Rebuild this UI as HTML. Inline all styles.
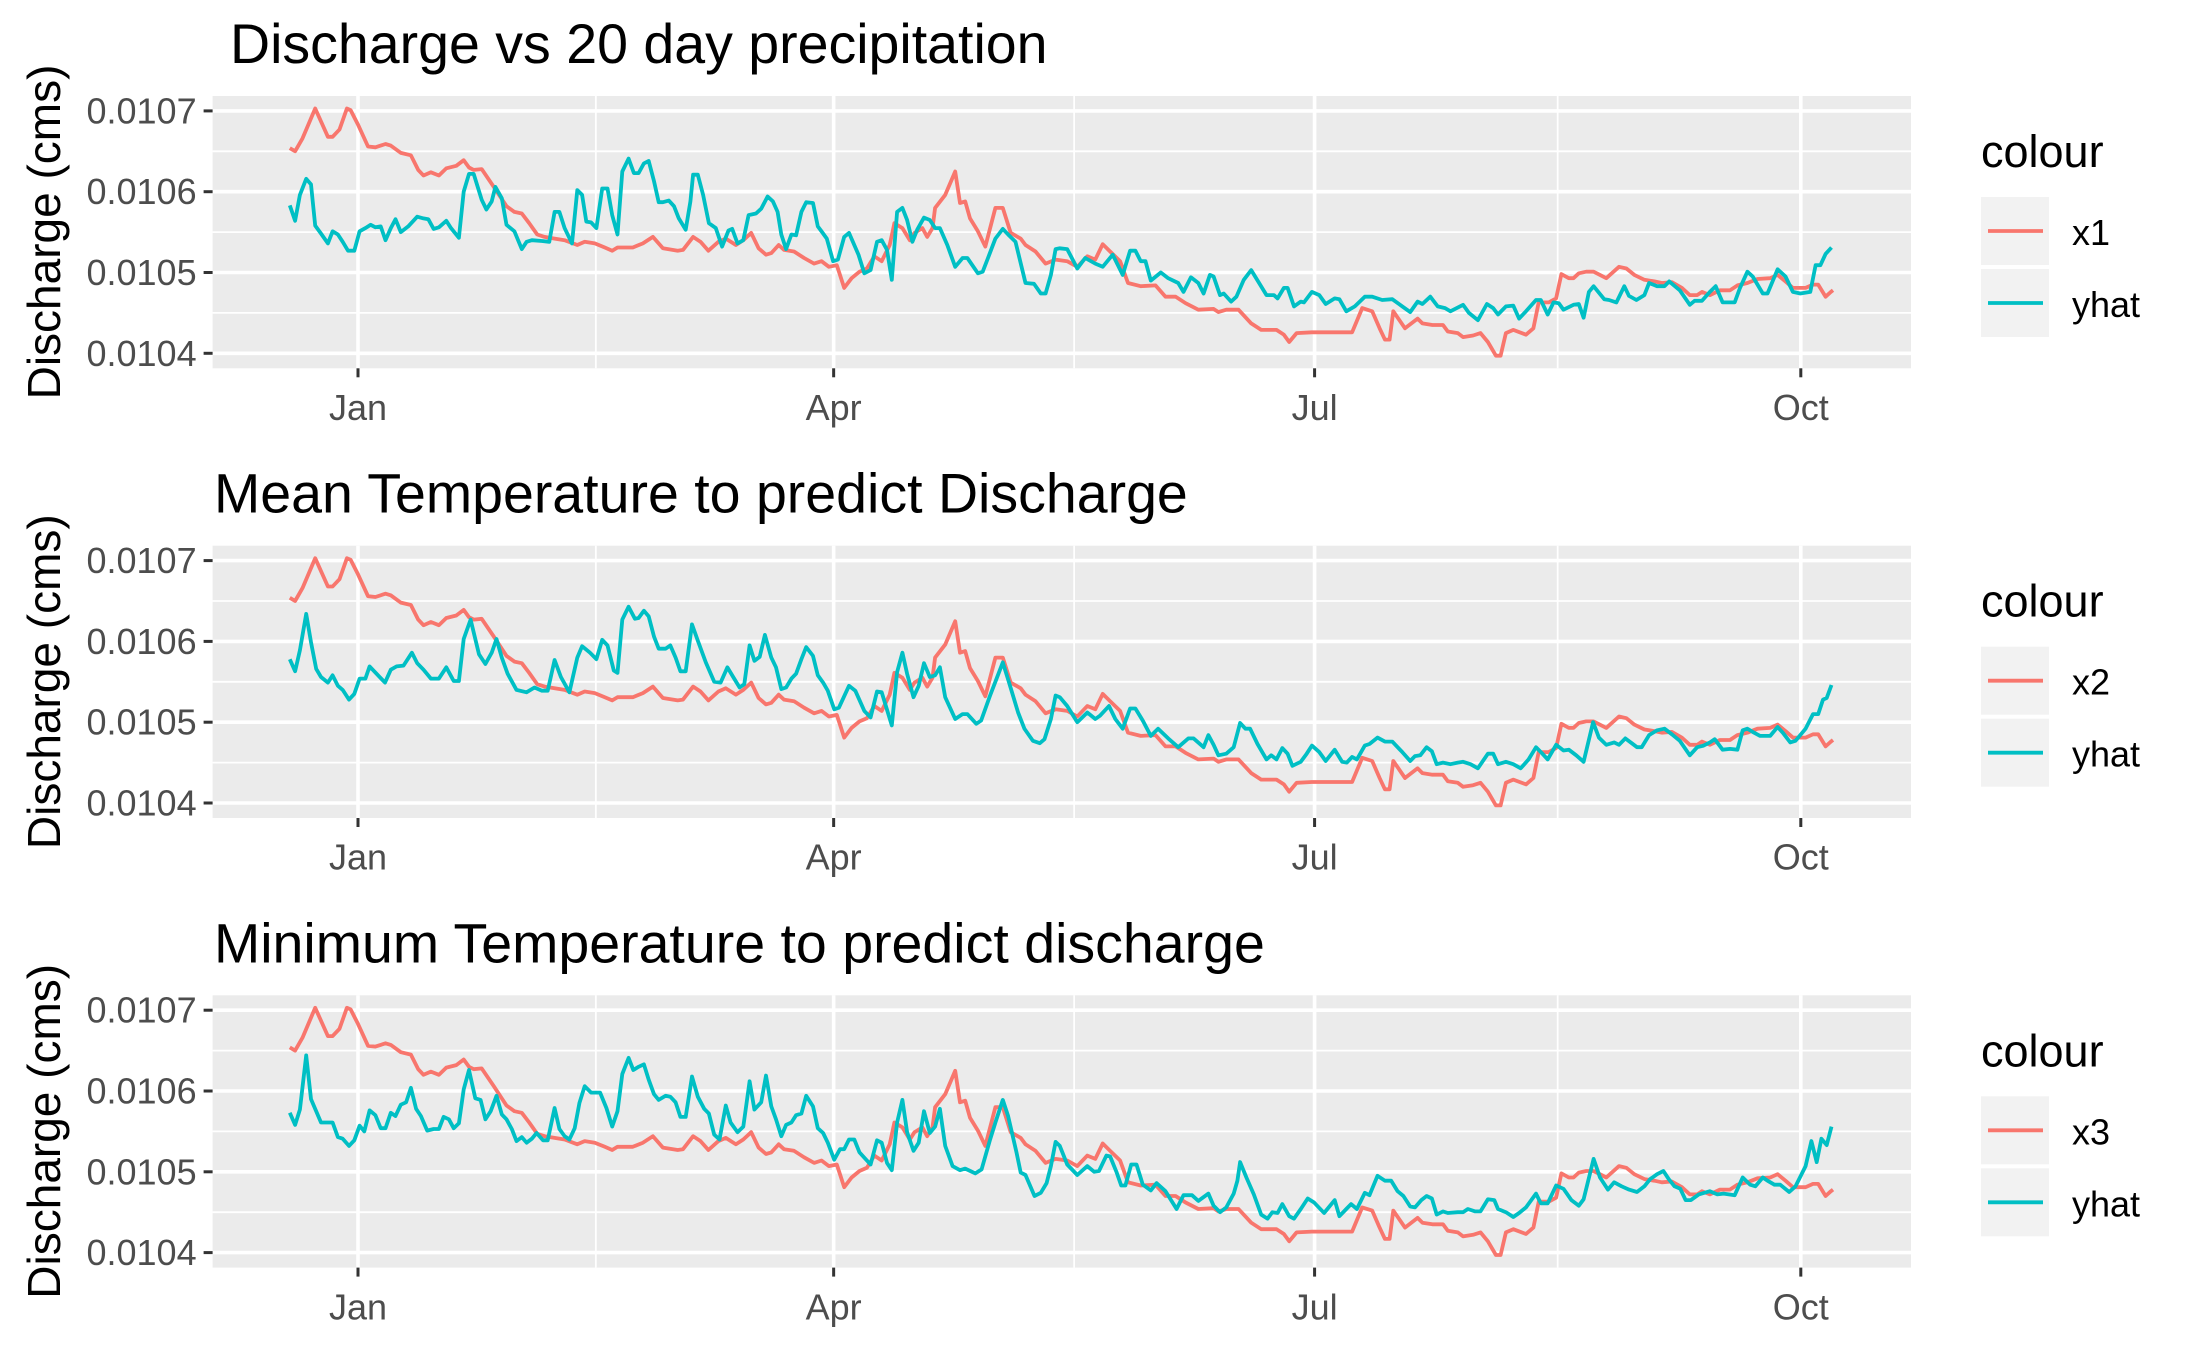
<!DOCTYPE html>
<html><head><meta charset="utf-8"><style>
html,body{margin:0;padding:0;background:#fff}
svg{display:block;font-family:"Liberation Sans",Arial,sans-serif}
</style></head><body>
<svg id="chart" width="2187" height="1350" viewBox="0 0 2187 1350" xmlns="http://www.w3.org/2000/svg"></svg>
<script>
// Day offsets are days from Jan 1 (negative = December of the previous year). Values are in units of 1e-4 cms.
const xTickDays = [0, 90, 181, 273];
const xTickLabels = ["Jan", "Apr", "Jul", "Oct"];
const yTickVals = [104, 105, 106, 107];
const yTickLabels = ["0.0104", "0.0105", "0.0106", "0.0107"];
const panelTitles = ["Discharge vs 20 day precipitation", "Mean Temperature to predict Discharge", "Minimum Temperature to predict discharge"];
const legendLabels = ["x1", "x2", "x3"];

const obsDays = [-12.9,-11.9,-10.5,-8.1,-5.7,-4.8,-3.5,-2.1,-1.4,0,1.9,3.3,5.2,6.2,8.1,10.0,11.4,12.4,13.8,15.3,16.7,18.6,20.0,21.0,21.9,23.4,25.7,28.1,29.6,31.0,32.4,33.9,35.3,37.2,39.1,41.5,42.9,44.8,46.7,48.1,49.1,52.0,53.9,55.8,57.7,60.5,61.5,63.4,64.8,66.3,68.2,69.6,71.5,72.9,74.4,75.8,77.2,78.2,79.6,80.6,82.5,84.4,86.3,87.7,89.1,90.6,92.0,93.4,94.9,96.3,97.7,99.1,100.6,101.5,103.0,104.4,105.3,106.8,107.7,108.7,109.2,111.1,113.0,113.9,114.9,115.8,117.3,118.7,120.6,122.0,123.5,125.4,126.3,128.2,130.1,132.0,134.2,136.1,138.0,139.5,140.9,142.3,144.2,145.7,148.1,150.9,152.8,154.7,156.6,159.0,161.9,162.8,164.3,166.6,169.0,170.9,173.8,175.2,176.2,177.6,180.5,184.3,188.1,190.0,191.9,193.3,194.3,195.2,195.9,198.1,200.5,201.4,203.3,205.3,206.2,208.1,209.1,211.0,212.4,213.8,215.3,216.2,217.2,218.6,221.0,222.4,223.4,225.3,226.7,227.7,229.1,230.0,231.0,232.4,233.8,236.2,238.6,240.0,241.5,243.4,245.3,246.7,248.6,250.5,252.0,253.4,254.3,255.8,257.7,259.6,261.0,262.9,264.8,267.2,268.6,270.1,271.5,273.9,275.3,276.3,277.7,278.7,279.1];
const obsVals = [106.54,106.50,106.66,107.03,106.68,106.68,106.77,107.03,107.01,106.83,106.56,106.55,106.59,106.57,106.48,106.45,106.27,106.20,106.24,106.20,106.29,106.32,106.39,106.30,106.27,106.28,106.06,105.82,105.75,105.73,105.61,105.47,105.44,105.42,105.40,105.34,105.38,105.36,105.31,105.27,105.31,105.31,105.36,105.44,105.30,105.27,105.28,105.44,105.38,105.27,105.38,105.42,105.34,105.40,105.49,105.30,105.22,105.24,105.34,105.28,105.26,105.18,105.11,105.14,105.07,105.09,104.81,104.93,105.01,105.05,105.20,105.14,105.34,105.61,105.55,105.40,105.49,105.55,105.44,105.55,105.80,105.96,106.25,105.86,105.88,105.67,105.51,105.32,105.80,105.80,105.49,105.42,105.34,105.26,105.11,105.16,105.14,105.07,105.20,105.16,105.35,105.26,105.14,104.87,104.83,104.84,104.70,104.70,104.62,104.54,104.55,104.51,104.54,104.54,104.37,104.29,104.29,104.23,104.14,104.25,104.26,104.26,104.26,104.56,104.52,104.31,104.17,104.17,104.52,104.31,104.43,104.37,104.35,104.35,104.27,104.25,104.20,104.22,104.25,104.14,103.97,103.97,104.25,104.29,104.23,104.31,104.63,104.63,104.68,104.98,104.93,104.93,104.99,105.01,105.01,104.93,105.07,105.05,104.97,104.91,104.89,104.87,104.88,104.81,104.72,104.72,104.76,104.72,104.78,104.78,104.84,104.87,104.92,104.93,104.97,104.89,104.81,104.81,104.85,104.85,104.70,104.76,104.78];

const yhat1Days = [-12.9,-11.9,-11.0,-9.8,-8.9,-8.1,-7.1,-5.7,-4.8,-3.8,-2.9,-1.9,-0.7,0.3,1.4,2.4,3.3,4.3,5.2,6.2,7.1,8.1,9.5,11.2,12.4,13.3,14.3,15.3,16.7,17.6,19.1,20.0,21.0,21.9,23.4,24.3,25.3,26.0,27.2,28.1,29.6,31.0,31.9,32.9,34.8,36.2,37.2,38.1,39.1,40.5,41.5,42.4,43.2,44.1,45.1,46.2,47.2,48.1,49.1,50.0,51.2,52.2,53.1,54.1,55.0,56.0,56.9,57.7,58.8,59.8,60.7,62.0,62.9,63.4,64.3,65.3,66.4,67.7,68.9,70.1,70.8,71.8,72.9,73.9,75.3,76.3,77.5,78.5,79.4,80.1,81.0,82.0,82.9,83.9,84.8,86.1,87.0,87.7,88.7,89.9,90.8,92.0,92.9,94.7,95.8,97.0,98.2,99.1,100.1,101.0,102.0,103.0,103.9,104.9,105.8,107.1,108.2,109.2,110.1,111.5,113.0,114.4,115.3,117.3,118.2,119.2,120.6,122.0,123.0,124.4,126.3,127.9,129.2,130.1,131.1,132.0,132.8,134.2,136.1,137.6,139.5,140.9,142.8,144.7,146.1,147.1,148.1,149.0,150.0,151.9,153.3,155.2,156.2,157.6,159.0,160.0,161.2,161.9,163.1,163.8,165.2,166.2,167.6,169.0,170.5,171.9,173.3,174.0,175.2,175.9,177.1,178.4,179.0,180.5,181.9,183.1,184.8,185.7,187.0,188.6,190.5,191.9,193.8,195.7,197.6,199.1,200.5,201.4,202.9,204.3,205.7,206.7,209.1,210.2,211.9,213.6,214.8,215.7,217.2,218.6,219.7,221.0,222.9,223.8,225.1,226.2,227.2,228.1,230.0,231.0,231.9,232.9,233.8,235.8,236.7,238.1,239.6,240.5,241.9,243.4,244.3,245.8,247.2,248.1,250.1,252.0,252.9,254.3,255.8,256.9,258.2,260.5,261.5,262.9,263.9,265.8,266.7,268.6,270.1,271.5,272.9,274.8,275.8,276.7,277.7,278.8];
const yhat1Vals = [105.83,105.64,105.96,106.16,106.09,105.58,105.49,105.36,105.51,105.47,105.38,105.27,105.27,105.51,105.55,105.59,105.56,105.57,105.40,105.55,105.66,105.50,105.57,105.69,105.67,105.66,105.54,105.56,105.64,105.55,105.43,106.00,106.22,106.22,105.90,105.78,105.88,106.06,105.92,105.59,105.51,105.29,105.38,105.40,105.39,105.38,105.75,105.75,105.55,105.36,106.02,105.96,105.63,105.62,105.55,106.04,106.04,105.71,105.47,106.25,106.41,106.23,106.23,106.35,106.38,106.13,105.87,105.87,105.89,105.82,105.67,105.53,105.88,106.21,106.21,105.96,105.61,105.55,105.32,105.52,105.54,105.36,105.40,105.71,105.73,105.79,105.94,105.88,105.75,105.47,105.29,105.47,105.46,105.75,105.87,105.86,105.57,105.51,105.42,105.14,105.16,105.44,105.49,105.22,104.99,105.03,105.38,105.40,105.28,104.91,105.75,105.80,105.65,105.38,105.53,105.68,105.65,105.55,105.55,105.34,105.07,105.18,105.18,104.99,105.01,105.18,105.42,105.54,105.47,105.38,104.87,104.86,104.74,104.74,104.97,105.29,105.30,105.29,105.05,105.18,105.11,105.07,105.22,104.97,105.27,105.27,105.14,105.14,104.90,105.00,104.93,104.87,104.76,104.94,104.87,104.74,104.97,104.95,104.72,104.74,104.64,104.70,104.91,105.03,104.87,104.72,104.72,104.68,104.81,104.81,104.58,104.64,104.63,104.76,104.72,104.61,104.68,104.67,104.52,104.58,104.70,104.70,104.66,104.67,104.58,104.51,104.64,104.61,104.70,104.58,104.56,104.52,104.60,104.50,104.41,104.61,104.56,104.48,104.58,104.59,104.43,104.52,104.66,104.66,104.48,104.63,104.62,104.54,104.60,104.61,104.44,104.76,104.83,104.67,104.66,104.63,104.83,104.71,104.66,104.72,104.87,104.83,104.83,104.89,104.78,104.60,104.65,104.65,104.76,104.83,104.63,104.63,104.81,105.01,104.95,104.74,104.74,105.04,104.95,104.76,104.74,104.76,105.09,105.09,105.23,105.31];

const yhat2Days = [-12.9,-11.9,-11.0,-9.8,-8.9,-7.9,-7.0,-5.7,-4.8,-3.8,-2.9,-1.7,-0.7,0.3,1.4,2.2,3.5,5.1,6.2,7.3,8.6,10.2,11.2,12.4,13.8,15.3,16.7,18.1,19.1,20.0,21.3,22.9,24.1,25.3,26.2,27.2,28.3,30.0,31.9,33.4,34.8,35.9,37.2,38.4,40.0,41.5,42.4,43.9,45.1,46.2,47.2,48.4,49.1,50.0,51.2,52.4,53.1,54.1,55.0,56.0,56.9,58.2,59.1,60.1,61.0,62.0,63.2,64.3,65.8,67.4,68.6,69.9,71.0,72.2,73.1,74.1,75.0,76.0,77.0,78.2,79.1,80.1,81.0,82.0,82.9,83.9,84.8,86.1,87.0,88.0,88.9,90.1,91.0,92.9,94.1,95.8,97.0,98.2,99.1,101.0,102.0,103.0,103.9,105.1,106.1,107.1,108.2,109.2,110.1,111.1,113.0,114.4,115.3,117.0,117.9,119.6,122.0,123.0,124.9,126.1,127.7,129.0,129.9,131.1,132.0,132.8,134.2,136.1,138.0,139.5,140.4,142.1,143.3,144.7,146.1,147.1,148.5,150.0,151.4,153.3,155.2,157.1,158.1,160.0,160.9,161.9,162.8,164.3,165.7,166.9,167.9,168.8,170.2,171.9,172.8,173.8,174.9,175.9,176.8,178.4,179.5,180.5,181.9,183.1,184.8,186.2,187.1,188.1,189.0,190.5,191.4,192.9,194.3,195.7,196.7,197.6,199.1,200.0,201.0,202.2,203.2,204.1,205.3,206.7,208.1,209.1,210.5,211.9,213.8,214.8,215.7,217.2,218.6,220.0,221.5,222.9,224.1,225.1,226.7,228.1,229.1,230.5,231.9,233.7,234.8,236.2,237.7,238.6,239.8,241.0,242.0,242.9,244.3,245.8,247.2,248.6,250.1,252.0,253.4,254.6,255.8,256.7,258.2,259.6,261.0,262.0,262.9,263.9,265.3,267.2,268.6,269.6,271.0,272.0,273.9,275.3,276.3,277.2,277.9,278.8];
const yhat2Vals = [105.78,105.63,105.89,106.34,105.99,105.66,105.56,105.49,105.58,105.45,105.40,105.28,105.35,105.54,105.54,105.69,105.60,105.49,105.65,105.69,105.70,105.86,105.73,105.65,105.54,105.54,105.68,105.51,105.51,106.03,106.27,105.84,105.72,105.86,106.03,105.80,105.60,105.40,105.37,105.43,105.39,105.39,105.77,105.56,105.37,105.80,105.94,105.86,105.78,106.02,105.95,105.64,105.61,106.27,106.43,106.28,106.29,106.38,106.31,106.06,105.91,105.91,105.95,105.80,105.63,105.63,106.21,106.01,105.74,105.50,105.49,105.68,105.56,105.43,105.47,105.95,105.76,105.81,106.08,105.80,105.68,105.41,105.43,105.54,105.60,105.78,105.93,105.82,105.58,105.49,105.39,105.16,105.18,105.45,105.39,105.14,105.06,105.38,105.37,104.96,105.62,105.86,105.60,105.31,105.45,105.73,105.56,105.58,105.68,105.31,105.04,105.10,105.10,104.98,105.02,105.33,105.74,105.53,105.12,104.92,104.77,104.74,104.79,105.04,105.33,105.31,105.20,105.00,105.12,105.04,105.08,105.20,105.04,104.92,105.17,105.17,105.02,104.83,104.92,104.80,104.69,104.80,104.80,104.69,104.84,104.72,104.59,104.61,104.69,104.99,104.92,104.92,104.73,104.54,104.59,104.54,104.68,104.61,104.46,104.51,104.61,104.71,104.63,104.52,104.66,104.51,104.50,104.57,104.54,104.71,104.73,104.81,104.76,104.76,104.69,104.63,104.52,104.58,104.59,104.69,104.64,104.48,104.50,104.48,104.50,104.51,104.48,104.43,104.61,104.61,104.48,104.51,104.48,104.43,104.54,104.69,104.61,104.54,104.72,104.65,104.66,104.59,104.51,105.00,104.81,104.72,104.75,104.72,104.80,104.74,104.69,104.69,104.84,104.90,104.92,104.85,104.77,104.59,104.69,104.71,104.75,104.79,104.66,104.67,104.66,104.90,104.92,104.88,104.83,104.83,104.94,104.87,104.75,104.77,104.92,105.10,105.10,105.28,105.30,105.46];

const yhat3Days = [-12.9,-11.9,-11.0,-9.8,-8.9,-7.9,-7.0,-5.7,-4.8,-3.8,-2.9,-1.7,-0.7,0.3,1.2,2.2,3.3,4.3,5.2,6.2,7.1,8.1,9.1,10.0,11.0,11.9,13.1,14.3,15.3,16.2,17.2,18.1,19.1,20.0,21.0,22.2,23.2,24.1,25.1,26.2,27.2,28.1,29.1,30.0,31.0,31.9,32.9,33.8,35.0,35.9,37.2,38.1,39.1,40.0,41.0,41.9,42.9,44.1,45.8,47.0,48.1,49.1,50.0,51.2,52.1,53.1,54.1,55.0,56.0,56.9,58.2,59.1,60.1,61.0,62.0,63.2,64.3,65.5,66.4,67.4,68.4,69.6,70.5,71.8,72.9,74.1,75.0,76.3,77.2,78.2,79.1,80.1,81.0,82.0,82.9,83.9,84.8,86.1,87.0,88.0,88.9,90.1,91.2,92.0,92.9,93.9,94.9,96.0,97.0,98.2,99.1,100.1,101.0,102.0,103.0,103.9,105.1,106.1,107.1,108.2,109.2,110.1,111.1,112.5,113.9,114.9,116.8,118.0,119.6,120.6,122.0,123.0,124.6,125.4,126.3,128.0,129.2,130.3,131.1,132.0,132.8,134.2,136.1,138.0,139.3,140.2,141.6,142.3,143.5,144.4,145.2,146.3,147.3,148.5,150.0,151.1,152.8,154.9,156.2,157.8,159.0,160.9,161.9,163.1,164.3,165.7,166.4,166.9,168.1,169.5,170.9,172.1,173.0,174.0,174.9,176.2,177.1,178.4,179.7,180.9,182.8,184.8,185.7,187.0,187.9,189.0,190.5,191.4,192.9,194.3,195.5,196.7,197.8,199.1,200.0,201.2,202.2,203.2,204.1,205.3,206.2,208.1,209.1,210.0,211.4,212.4,213.8,215.0,215.7,217.2,218.6,219.7,221.0,222.9,223.8,225.1,226.7,228.1,229.6,231.0,231.9,233.8,235.0,236.5,237.7,239.1,240.5,242.0,243.4,244.5,245.8,247.0,248.0,249.1,250.2,251.2,252.2,253.7,255.8,257.2,258.4,260.5,262.0,263.4,264.4,265.8,266.7,268.0,269.1,270.8,272.0,273.9,275.0,276.0,276.9,277.9,278.8];
const yhat3Vals = [105.73,105.58,105.77,106.44,105.90,105.75,105.61,105.61,105.61,105.43,105.41,105.32,105.39,105.57,105.50,105.76,105.70,105.54,105.54,105.73,105.69,105.83,105.86,106.04,105.78,105.69,105.51,105.53,105.53,105.68,105.65,105.54,105.60,106.02,106.26,105.91,105.89,105.65,105.75,105.94,105.71,105.65,105.53,105.38,105.43,105.36,105.41,105.48,105.39,105.39,105.79,105.53,105.44,105.40,105.54,105.85,106.06,105.98,105.98,105.79,105.56,105.75,106.21,106.41,106.26,106.30,106.33,106.14,105.96,105.89,105.94,105.93,105.86,105.68,105.68,106.18,105.93,105.78,105.72,105.46,105.40,105.82,105.61,105.49,105.56,106.12,105.77,105.86,106.19,105.81,105.65,105.44,105.58,105.61,105.70,105.72,105.94,105.81,105.54,105.48,105.36,105.15,105.28,105.28,105.40,105.40,105.24,105.16,105.09,105.39,105.36,105.11,105.02,105.61,105.89,105.49,105.26,105.36,105.75,105.48,105.56,105.78,105.32,105.07,105.02,105.04,104.98,105.03,105.40,105.61,105.89,105.69,105.24,104.99,104.96,104.70,104.74,104.86,105.07,105.37,105.32,105.09,104.96,105.07,105.00,105.01,105.20,105.19,105.00,104.83,104.83,105.09,105.09,104.84,104.77,104.86,104.76,104.54,104.71,104.71,104.64,104.73,104.58,104.50,104.56,104.73,104.89,105.12,104.93,104.72,104.47,104.42,104.50,104.49,104.60,104.45,104.42,104.54,104.67,104.62,104.49,104.65,104.45,104.54,104.60,104.54,104.74,104.71,104.95,104.89,104.89,104.76,104.70,104.57,104.56,104.65,104.70,104.67,104.47,104.51,104.49,104.50,104.50,104.54,104.51,104.51,104.66,104.65,104.54,104.50,104.44,104.49,104.56,104.73,104.61,104.61,104.83,104.79,104.65,104.58,104.66,105.16,104.93,104.78,104.87,104.82,104.78,104.75,104.82,104.91,104.97,105.01,104.91,104.82,104.79,104.65,104.65,104.72,104.76,104.72,104.73,104.71,104.93,104.84,104.82,104.93,104.89,104.84,104.84,104.75,104.82,105.07,105.38,105.12,105.41,105.33,105.56];

const NS = "http://www.w3.org/2000/svg";
const svg = document.getElementById("chart");
const RED = "#F8766D", TEAL = "#00BFC4";
const PX0 = 212.6, PX1 = 1911, PY0 = 96, PY1 = 368.3;
const panelOffsets = [0, 449.7, 899.3];

function xScale(d) { return 358 + d * 5.285; }
function yScale(v, oy) { return 353.3 - (v - 104) * 80.8 + oy; }

function mk(tag, attrs, parent, text) {
  const e = document.createElementNS(NS, tag);
  for (const k in attrs) e.setAttribute(k, attrs[k]);
  if (text !== undefined) e.textContent = text;
  (parent || svg).appendChild(e);
  return e;
}

const yhatDays = [yhat1Days, yhat2Days, yhat3Days];
const yhatVals = [yhat1Vals, yhat2Vals, yhat3Vals];

panelOffsets.forEach((oy, i) => {
  const g = mk("g", {});
  
  

  const title = mk("text", {x: i === 0 ? 230 : 214, y: 63 + oy, "font-size": 55.5, fill: "#000"}, g, panelTitles[i]);
  
  

  const bg = mk("rect", {x: PX0, y: PY0 + oy, width: PX1 - PX0, height: PY1 - PY0, fill: "#EBEBEB"}, g);
  
  

  for (let k = 0; k < yTickVals.length - 1; k++) {
    const y = yScale((yTickVals[k] + yTickVals[k + 1]) / 2, oy);
    const l = mk("line", {x1: PX0, x2: PX1, y1: y, y2: y, stroke: "#fff", "stroke-width": 1.8}, g);
    
    
  }
  for (let k = 0; k < xTickDays.length - 1; k++) {
    const x = xScale((xTickDays[k] + xTickDays[k + 1]) / 2);
    const l = mk("line", {x1: x, x2: x, y1: PY0 + oy, y2: PY1 + oy, stroke: "#fff", "stroke-width": 1.8}, g);
    
    
  }
  yTickVals.forEach((v, k) => {
    const y = yScale(v, oy);
    const l = mk("line", {x1: PX0, x2: PX1, y1: y, y2: y, stroke: "#fff", "stroke-width": 3.6}, g);
    
    
    const t = mk("line", {x1: PX0 - 9, x2: PX0, y1: y, y2: y, stroke: "#333", "stroke-width": 3}, g);
    
    
    const lab = mk("text", {x: PX0 - 16, y: y + 12.5, "font-size": 36, fill: "#4D4D4D", "text-anchor": "end"}, g, yTickLabels[k]);
    
    
  });
  xTickDays.forEach((d, k) => {
    const x = xScale(d);
    const l = mk("line", {x1: x, x2: x, y1: PY0 + oy, y2: PY1 + oy, stroke: "#fff", "stroke-width": 3.6}, g);
    
    
    const t = mk("line", {x1: x, x2: x, y1: PY1 + oy, y2: PY1 + 9 + oy, stroke: "#333", "stroke-width": 3}, g);
    
    
    const lab = mk("text", {x: x, y: 420 + oy, "font-size": 36, fill: "#4D4D4D", "text-anchor": "middle"}, g, xTickLabels[k]);
    
    
  });

  const yt = mk("text", {x: 0, y: 0, "font-size": 46, fill: "#000", "text-anchor": "middle", transform: "translate(60," + (232 + oy) + ") rotate(-90)"}, g, "Discharge (cms)");
  
  

  function line(days, vals, color, name) {
    const pts = days.map((d, k) => xScale(d).toFixed(1) + "," + yScale(vals[k], oy).toFixed(1)).join(" ");
    const p = mk("polyline", {points: pts, fill: "none", stroke: color, "stroke-width": 3.8, "stroke-linejoin": "round"}, g);
    
    
  }
  line(obsDays, obsVals, RED, 'series-' + legendLabels[i]);
  line(yhatDays[i], yhatVals[i], TEAL, 'series-yhat');

  const lg = mk("g", {}, g);
  
  
  const lt = mk("text", {x: 1981, y: 167 + oy, "font-size": 45, fill: "#000"}, lg, "colour");
  
  
  [[legendLabels[i], RED, 197], ["yhat", TEAL, 269]].forEach(([lab, col, ky]) => {
    const e = mk("g", {}, lg);
    
    
    mk("rect", {x: 1981, y: ky + oy, width: 68, height: 68, fill: "#F2F2F2"}, e);
    mk("line", {x1: 1988, x2: 2043, y1: ky + 34 + oy, y2: ky + 34 + oy, stroke: col, "stroke-width": 3.8}, e);
    const tx = mk("text", {x: 2072, y: ky + 48 + oy, "font-size": 36, fill: "#000"}, e, lab);
    
    
  });
});
</script>
</body></html>
